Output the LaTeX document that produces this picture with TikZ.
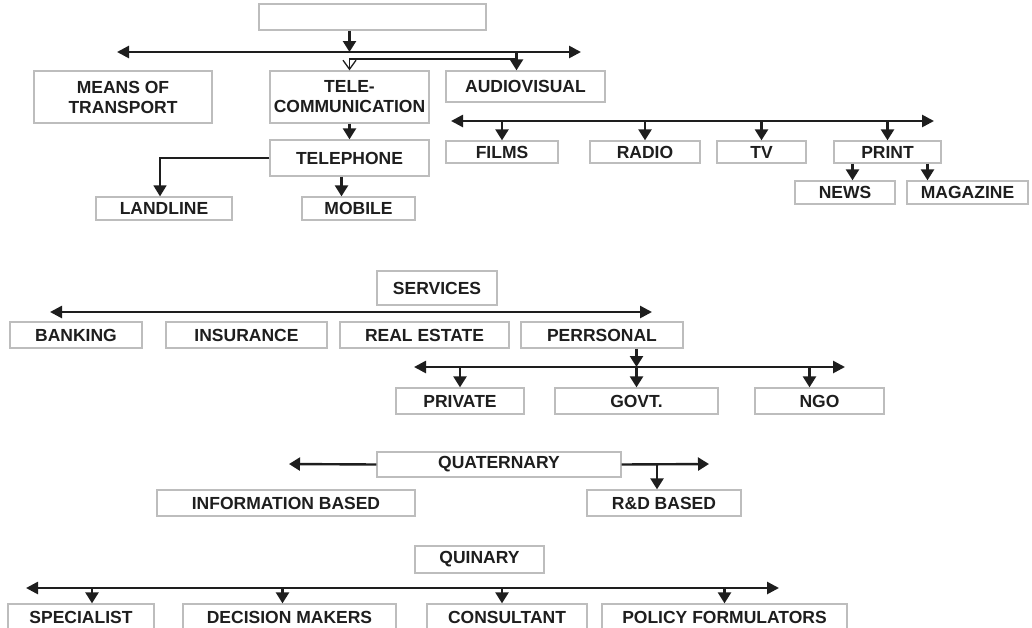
\documentclass[tikz,border=0pt]{standalone}
\usepackage{fontspec}
\setmainfont{Liberation Sans}
\usetikzlibrary{arrows.meta}
\definecolor{boxgray}{HTML}{BDBDBD}
\definecolor{ink}{HTML}{1E1E1E}

\begin{document}
\begin{tikzpicture}[x=1pt,y=-1pt,
        box/.style={draw=boxgray,line width=1.3pt,fill=white,inner sep=0pt,align=center,
            font=\bfseries\fontsize{17.5}{20}\selectfont,text=ink},
        bus/.style={line width=2.6pt,draw=ink,
            {Triangle[length=12pt,width=12pt]}-{Triangle[length=12pt,width=12pt]}},
        arr/.style={line width=2.4pt,draw=ink,-{Triangle[length=11pt,width=13pt]}},
        link/.style={line width=1.6pt,draw=ink,-{Triangle[length=11pt,width=13pt]}},
        openlink/.style={line width=1.3pt,draw=ink,-{Straight Barb[length=9pt,width=13pt]}}
    ]
        \useasboundingbox (0,0) rectangle (1032,627);
        \clip (0,0) rectangle (1032,627);
        \fill[white] (0,0) rectangle (1032,627);

        % Define the nodes
        \node[box,minimum width=227,minimum height=26] (top) at (372.5,17) {};
        \node[box,minimum width=178,minimum height=52] (transport) at (123,97) {MEANS OF\\TRANSPORT};
        \node[box,minimum width=159,minimum height=52] (telecom) at (349.5,97) {TELE-\\COMMUNICATION};
        \node[box,minimum width=159,minimum height=31] (audio) at (525.5,86.5) {AUDIOVISUAL};
        \node[box,minimum width=159,minimum height=36] (telephone) at (349.5,158) {TELEPHONE};
        \node[box,minimum width=136,minimum height=23] (landline) at (164,208.5) {LANDLINE};
        \node[box,minimum width=113,minimum height=23] (mobile) at (358.5,208.5) {MOBILE};
        \node[box,minimum width=112,minimum height=22] (films) at (502,152) {FILMS};
        \node[box,minimum width=110,minimum height=22] (radio) at (645,152) {RADIO};
        \node[box,minimum width=89,minimum height=22] (tv) at (761.5,152) {TV};
        \node[box,minimum width=107,minimum height=22] (print) at (887.5,152) {PRINT};
        \node[box,minimum width=100,minimum height=23] (news) at (845,192.5) {NEWS};
        \node[box,minimum width=121,minimum height=23] (magazine) at (967.5,192.5) {MAGAZINE};

        \node[box,minimum width=120,minimum height=34] (services) at (437,288) {SERVICES};
        \node[box,minimum width=132,minimum height=26] (banking) at (76,335) {BANKING};
        \node[box,minimum width=161,minimum height=26] (insurance) at (246.5,335) {INSURANCE};
        \node[box,minimum width=169,minimum height=26] (realestate) at (424.5,335) {REAL ESTATE};
        \node[box,minimum width=162,minimum height=26] (personal) at (602,335) {PERRSONAL};
        \node[box,minimum width=128,minimum height=26] (private) at (460,401) {PRIVATE};
        \node[box,minimum width=163,minimum height=26] (govt) at (636.5,401) {GOVT.};
        \node[box,minimum width=129,minimum height=26] (ngo) at (819.5,401) {NGO};

        \node[box,minimum width=244,minimum height=25] (quaternary) at (499,464.5) {QUATERNARY};
        \node[box,minimum width=258,minimum height=26] (infobased) at (286,503) {INFORMATION BASED};
        \node[box,minimum width=154,minimum height=26] (rdbased) at (664,503) {R\&D BASED};

        \node[box,minimum width=129,minimum height=27] (quinary) at (479.5,559.5) {QUINARY};
        \node[box,minimum width=146,minimum height=26] (specialist) at (81,617) {SPECIALIST};
        \node[box,minimum width=213,minimum height=26] (decision) at (289.5,617) {DECISION MAKERS};
        \node[box,minimum width=160,minimum height=26] (consultant) at (507,617) {CONSULTANT};
        \node[box,minimum width=245,minimum height=26] (policy) at (724.5,617) {POLICY FORMULATORS};

        % Bus ends
        \coordinate (busAL) at (117,52);
        \coordinate (busAR) at (581,52);
        \coordinate (avturn) at (516,59);
        \coordinate (busBL) at (451,121);
        \coordinate (busBR) at (934,121);
        \coordinate (busCL) at (50,312);
        \coordinate (busCR) at (652,312);
        \coordinate (busDL) at (414,367);
        \coordinate (busDR) at (845,367);
        \coordinate (quatL) at (289,464);
        \coordinate (quatR) at (709,464);
        \coordinate (busEL) at (26,588);
        \coordinate (busER) at (779,588);

        % Transport and communication
        \draw[bus] (busAL) -- (busAR);
        \draw[arr] (top.south -| telecom.north) -- (telecom.north |- busAL);
        \draw[arr] ([xshift=-9]audio.north |- busAL) -- ([xshift=-9]audio.north);
        \draw[openlink] (avturn) -| (telecom.north);
        \draw[arr] (telecom) -- (telephone);
        \draw[link] (telephone.west) -| ([xshift=-4]landline.north);
        \draw[arr] ([xshift=-8]telephone.south) -- ([xshift=-8]telephone.south |- mobile.north);
        \draw[bus] (busBL) -- (busBR);
        \foreach \n in {films,radio,tv,print}
            \draw[arr] (\n.north |- busBL) -- (\n.north);
        \draw[arr] ([xshift=-35]print.south) -- ([xshift=-35]print.south |- news.north);
        \draw[arr] ([xshift=40]print.south) -- ([xshift=40]print.south |- magazine.north);

        % Services
        \draw[bus] (busCL) -- (busCR);
        \draw[bus] (busDL) -- (busDR);
        \draw[arr] (personal.south -| govt.north) -- (govt.north |- busDL);
        \foreach \n/\dx in {private/0,govt/0,ngo/-10}
            \draw[arr] ([xshift=\dx]\n.north |- busDL) -- ([xshift=\dx]\n.north);

        % Quaternary
        \draw[arr] (quaternary.west) -- (quatL);
        \draw[arr] (quaternary.east) -- (quatR);
        \draw[arr] ([xshift=-7]rdbased.north |- quatR) -- ([xshift=-7]rdbased.north);

        % Quinary
        \draw[bus] (busEL) -- (busER);
        \foreach \n/\dx in {specialist/11,decision/-7,consultant/-5,policy/0}
            \draw[arr] ([xshift=\dx]\n.north |- busEL) -- ([xshift=\dx]\n.north);
    \end{tikzpicture}
\end{document}
